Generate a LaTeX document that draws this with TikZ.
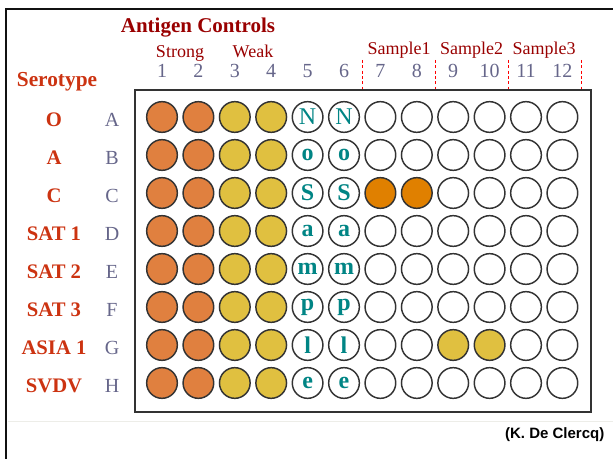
\documentclass[tikz,border=0pt]{standalone}
\usepackage{fontspec}
\setmainfont{Liberation Serif}
\setsansfont{Liberation Sans}
\usepackage{tikz}
\usetikzlibrary{positioning}
\definecolor{st}{HTML}{E0803F}
\definecolor{wk}{HTML}{E0C040}
\definecolor{pc}{HTML}{E08000}
\definecolor{r1}{HTML}{990000}
\definecolor{r2}{HTML}{CC3311}
\definecolor{sl}{HTML}{66668A}
\definecolor{tl}{HTML}{008585}
\definecolor{ink1}{HTML}{111111}
\definecolor{ink2}{HTML}{333333}
\definecolor{faint}{HTML}{EDEDE8}
\tikzset{well/.style={circle, draw=ink2, line width=1.1pt, minimum size=23pt, inner sep=0pt, font=\bfseries\fontsize{18}{18}\selectfont, text=tl},
         wC7/.style={fill=pc}, wC8/.style={fill=pc}, wG9/.style={fill=wk}, wG10/.style={fill=wk},
         num/.style={anchor=base, text=sl, font=\fontsize{15}{15}\selectfont},
         grp/.style={anchor=base, text=r1, font=\fontsize{13.5}{13.5}\selectfont},
         sero/.style={anchor=base, text=r2, font=\bfseries\fontsize{15.5}{15.5}\selectfont},
         sep/.style={red, dash pattern=on 2.2pt off 1.8pt, line width=0.9pt}}

\begin{document}
\begin{tikzpicture}[x=0.75pt, y=-0.75pt]
\useasboundingbox (0,0) rectangle (613,459);
\draw[line width=1.7pt, ink1] (613,9) -- (6,9) -- (6,459);
\draw[line width=0.75pt, faint] (8,421) -- (613,421);
\draw[line width=1.5pt, ink2] (134.5,90) rectangle (591,412);
\foreach \rw/\lt/\sn [count=\i from 0] in {A/\mdseries N/O, B/o/A, C/S/C, D/a/SAT 1, E/m/SAT 2, F/p/SAT 3, G/l/ASIA 1, H/e/SVDV}{
  \pgfmathsetmacro\wy{117+38*\i}
  \node[sero] (s\rw) at (54,\wy+9.5) {\sn};
  \node[num] (l\rw) at (112,\wy+9.5) {\rw};
  \foreach \c in {1,...,12}{
    \ifnum\c<3 \def\wf{st}\else\ifnum\c<5 \def\wf{wk}\else\def\wf{white}\fi\fi
    \node[well, fill=\wf, w\rw\c/.try] (w\rw\c) at ({162+36.4*(\c-1)},\wy) {\ifnum\c>4 \ifnum\c<7 \lt\fi\fi};
  }
}
\foreach \c in {1,...,12} \node[num, above=14.25pt of wA\c] (c\c) {\c};
\node[anchor=base, text=r1, font=\bfseries\fontsize{15.75}{15.75}\selectfont] (ttl) at (198,33) {Antigen Controls};
\node[grp] (gs) at (180,58) {Strong};
\node[grp] (gw) at (253,58) {Weak};
\node[grp] (g1) at (399,55) {Sample1};
\node[grp] (g2) at (471.6,55) {Sample2};
\node[grp] (g3) at (544.2,55) {Sample3};
\foreach \x in {362.7,435.5,508.3,581.1} \draw[sep] (\x,60) -- (\x,89);
\node[sero, font=\bfseries\fontsize{16}{16}\selectfont] (sty) at (57,87) {Serotype};
\node[anchor=base east, font=\sffamily\bfseries\fontsize{11.25}{11.25}\selectfont] (cr) at (609,438) {(K. De Clercq)};
\end{tikzpicture}
\end{document}
